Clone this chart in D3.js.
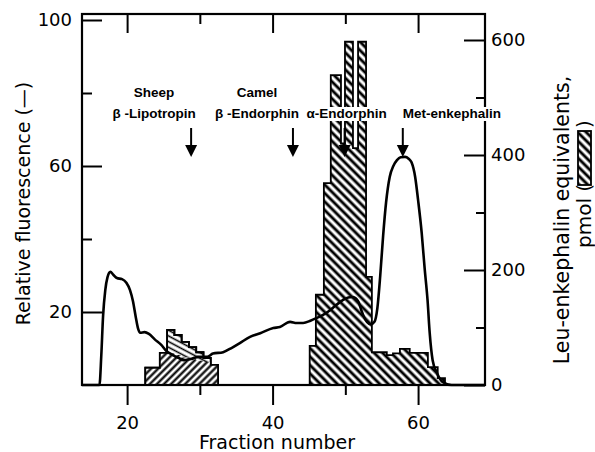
<!DOCTYPE html>
<html>
<head>
<meta charset="utf-8">
<script src="https://cdn.jsdelivr.net/npm/d3@7/dist/d3.min.js"></script>
<style>
  html, body { margin: 0; padding: 0; background: #fff; }
  svg { display: block; }
</style>
</head>
<body>
<svg id="chart" width="595" height="452"></svg>
<script>
// ---------------- DATA ----------------
const fractionMajorTicks = [20, 40, 60];
const fractionMinorTicks = [30, 50];
const fluorMajorTicks = [20, 60, 100];
const fluorMinorTicks = [40, 80];
const pmolMajorTicks = [0, 200, 400, 600];
const pmolMinorTicks = [100, 300, 500];

// Fluorescence trace (fraction number, relative fluorescence)
const curveFraction = [13.8, 16.2, 16.45, 16.7, 17.0, 17.3, 17.7, 18.1, 18.6, 19.3, 19.9, 20.4, 20.8, 21.2, 21.5, 21.8, 22.4, 23.0, 23.8, 24.7, 25.4, 26.3, 27.1, 27.8, 28.8, 29.8, 31.0, 31.8, 33.2, 34.4, 35.5, 36.9, 38.3, 40.1, 41.0, 42.4, 43.3, 44.2, 45.2, 46.1, 47.0, 47.9, 48.8, 49.7, 50.4, 50.9, 51.4, 51.8, 52.2, 52.6, 53.0, 53.5, 54.0, 54.4, 54.8, 55.2, 55.6, 56.1, 56.6, 57.1, 57.6, 58.2, 58.7, 59.1, 59.6, 60.0, 60.5, 60.9, 61.3, 61.6, 62.0, 62.6, 63.4, 64.6, 69.2];
const curveFluor = [0, 0, 8, 19, 26, 29.5, 31, 30.2, 29.3, 29, 28, 26, 23, 18.5, 15.5, 14.3, 14.5, 14.0, 12.5, 11, 9.3, 8.2, 7.4, 6.8, 7.1, 7.7, 7.7, 8.6, 9.0, 10.2, 11.5, 13.2, 14.2, 15.6, 15.9, 17.3, 17.0, 17.0, 17.6, 18.4, 19.3, 20.5, 22.0, 23.3, 24.0, 24.1, 23.8, 22.8, 20.5, 18.5, 17.2, 16.6, 17.3, 21, 30, 41, 50, 57, 60, 61.6, 62.4, 62.5, 62, 61, 57, 50.7, 41.6, 32, 23.3, 14.2, 6.8, 3.3, 0.8, 0, 0];

// Left histogram cluster (bin edges in fraction number, pmol)
const leftEdges = [22.5, 23.5, 24.5, 25.5, 26.5, 27.5, 28.5, 29.5, 30.5, 31.5, 32.5];
const leftTotal = [30, 30, 56, 96, 87, 75, 66, 57, 47, 35];
const leftLower = [30, 30, 56, 55, 52, 48, 45, 42, 40, 35];

// Right histogram cluster (bin edges in fraction number, pmol)
const rightEdges = [45.1, 45.95, 47.05, 48.0, 49.4, 49.95, 51.05, 51.75, 52.85, 53.65, 55.7, 56.55, 57.5, 58.85, 61.35, 62.7, 63.7];
const rightValues = [68, 157, 351, 539, 420, 597, 412, 597, 188, 57, 52, 55, 63, 56, 31, 12];

// Elution markers
const markerFraction = [28.8, 42.8, 49.9, 57.9];
const markerLine1 = ["Sheep", "Camel", "", ""];
const markerLine2 = ["β -Lipotropin", "β -Endorphin", "α-Endorphin", "Met-enkephalin"];

// ---------------- LAYOUT ----------------
const svg = d3.select("#chart");
const L = 82, R = 485, T = 14, B = 385;
const x = d3.scaleLinear().domain([13.8, 69.2]).range([L, R]);
const yL = d3.scaleLinear().domain([0, 100]).range([B, 20]);
const yR = d3.scaleLinear().domain([0, 600]).range([B, 40]);

const tickFont = "'DejaVu Sans', sans-serif";

// patterns
const defs = svg.append("defs");
function hatch(id, size, width, angle) {
  const p = defs.append("pattern")
    .attr("id", id).attr("patternUnits", "userSpaceOnUse")
    .attr("width", size).attr("height", size)
    .attr("patternTransform", `rotate(${angle})`);
  p.append("rect").attr("width", size).attr("height", size).attr("fill", "#fff");
  p.append("line").attr("x1", size / 2).attr("x2", size / 2)
    .attr("y1", 0).attr("y2", size)
    .attr("stroke", "#000").attr("stroke-width", width);
}
hatch("back", 6, 2.9, -45);      // "\\\\"
hatch("fwd", 5, 2.2, 45);        // "////"
hatch("light", 5, 1.6, -62);     // shallow "\\\\"

function stepArea(edges, values) {
  const pts = edges.map((e, i) => ({ e, v: values[Math.min(i, values.length - 1)] }));
  return d3.area().x(d => x(d.e)).y0(yR(0)).y1(d => yR(d.v)).curve(d3.curveStepAfter)(pts);
}

// Left cluster: upper (total) light hatch, lower dense hatch
svg.append("path").attr("d", stepArea(leftEdges, leftTotal))
  .attr("fill", "url(#light)").attr("stroke", "#000").attr("stroke-width", 1.8);
svg.append("path").attr("d", stepArea(leftEdges, leftLower))
  .attr("fill", "url(#fwd)").attr("stroke", "none");
svg.append("path").attr("d", stepArea(leftEdges, leftTotal))
  .attr("fill", "none").attr("stroke", "#000").attr("stroke-width", 1.8);

// Right cluster
svg.append("path").attr("d", stepArea(rightEdges, rightValues))
  .attr("fill", "url(#back)").attr("stroke", "#000").attr("stroke-width", 1.8);

// Fluorescence curve
const curvePts = curveFraction.map((f, i) => [f, curveFluor[i]]);
svg.append("path")
  .attr("d", d3.line().x(d => x(d[0])).y(d => yL(d[1])).curve(d3.curveMonotoneX)(curvePts))
  .attr("fill", "none").attr("stroke", "#000").attr("stroke-width", 2.6)
  .attr("stroke-linejoin", "round");

// ---------------- AXES ----------------
function styleAxis(g) {
  g.select(".domain").remove();
  g.selectAll(".tick line").attr("stroke", "#000").attr("stroke-width", 2);
  g.selectAll("text").attr("font-family", tickFont).attr("font-size", 18).attr("fill", "#000");
}
// bottom (outward ticks + labels)
svg.append("g").attr("transform", `translate(0,${B})`)
  .call(d3.axisBottom(x).tickValues(fractionMajorTicks).tickSize(20).tickPadding(11).tickFormat(d3.format("d")))
  .call(styleAxis);
svg.append("g").attr("transform", `translate(0,${B})`)
  .call(d3.axisBottom(x).tickValues(fractionMinorTicks).tickSize(10).tickFormat(""))
  .call(styleAxis);
// top (inward ticks)
svg.append("g").attr("transform", `translate(0,${T})`)
  .call(d3.axisBottom(x).tickValues(fractionMajorTicks).tickSize(19).tickFormat(""))
  .call(styleAxis);
svg.append("g").attr("transform", `translate(0,${T})`)
  .call(d3.axisBottom(x).tickValues(fractionMinorTicks).tickSize(10).tickFormat(""))
  .call(styleAxis);
// left (inward ticks, labels outside)
svg.append("g").attr("transform", `translate(${L},0)`)
  .call(d3.axisRight(yL).tickValues(fluorMajorTicks).tickSize(20).tickFormat(""))
  .call(styleAxis);
svg.append("g").attr("transform", `translate(${L},0)`)
  .call(d3.axisRight(yL).tickValues(fluorMinorTicks).tickSize(10).tickFormat(""))
  .call(styleAxis);
svg.append("g").attr("transform", `translate(${L},0)`)
  .call(d3.axisLeft(yL).tickValues(fluorMajorTicks).tickSize(0).tickPadding(10))
  .call(styleAxis);
// right (inward ticks, labels outside)
svg.append("g").attr("transform", `translate(${R},0)`)
  .call(d3.axisLeft(yR).tickValues(pmolMajorTicks).tickSize(21).tickFormat(""))
  .call(styleAxis);
svg.append("g").attr("transform", `translate(${R},0)`)
  .call(d3.axisLeft(yR).tickValues(pmolMinorTicks).tickSize(9).tickFormat(""))
  .call(styleAxis);
svg.append("g").attr("transform", `translate(${R},0)`)
  .call(d3.axisRight(yR).tickValues(pmolMajorTicks).tickSize(0).tickPadding(6))
  .call(styleAxis);

// frame
svg.append("rect").attr("x", L).attr("y", T).attr("width", R - L).attr("height", B - T)
  .attr("fill", "none").attr("stroke", "#000").attr("stroke-width", 2.2);

// ---------------- TITLES ----------------
svg.append("text")
  .attr("transform", `translate(30,${(82 + 325) / 2}) rotate(-90)`)
  .attr("text-anchor", "middle").attr("font-family", tickFont).attr("font-size", 19)
  .text("Relative fluorescence (—)");
svg.append("text")
  .attr("x", 277).attr("y", 449).attr("text-anchor", "middle")
  .attr("font-family", tickFont).attr("font-size", 19)
  .text("Fraction number");
svg.append("text")
  .attr("transform", `translate(569,220) rotate(-90)`)
  .attr("text-anchor", "middle").attr("font-family", tickFont).attr("font-size", 20.5)
  .text("Leu-enkephalin equivalents,");
svg.append("text")
  .attr("transform", `translate(591,248) rotate(-90)`)
  .attr("text-anchor", "start").attr("font-family", tickFont).attr("font-size", 20)
  .text("pmol (");
svg.append("rect").attr("x", 578).attr("y", 131).attr("width", 13).attr("height", 54)
  .attr("fill", "url(#back)").attr("stroke", "#000").attr("stroke-width", 1.8);
svg.append("text")
  .attr("transform", `translate(591,128) rotate(-90)`)
  .attr("text-anchor", "start").attr("font-family", tickFont).attr("font-size", 20)
  .text(")");

// ---------------- MARKERS ----------------
const labelDx = [-37, -36, 2, 49];
const labelFont = "'Liberation Sans', Arial, sans-serif";
markerFraction.forEach((f, i) => {
  const cx = x(f) + labelDx[i];
  [[markerLine1[i], 97], [markerLine2[i], 118]].forEach(([txt, yy]) => {
    if (!txt) return;
    const g = svg.append("g");
    const t = g.append("text").attr("x", cx).attr("y", yy).attr("text-anchor", "middle")
      .attr("font-family", labelFont).attr("font-weight", "bold").attr("font-size", 13.5)
      .text(txt);
    const bb = t.node().getBBox();
    g.insert("rect", "text").attr("x", bb.x - 1).attr("y", bb.y + 1)
      .attr("width", bb.width + 2).attr("height", bb.height - 1).attr("fill", "#fff");
  });
  const ax = x(f);
  svg.append("line").attr("x1", ax).attr("x2", ax).attr("y1", 128).attr("y2", 148)
    .attr("stroke", "#000").attr("stroke-width", 2);
  svg.append("path").attr("d", `M${ax - 6},145 L${ax + 6},145 L${ax},157 Z`).attr("fill", "#000");
});
</script>
</body>
</html>
